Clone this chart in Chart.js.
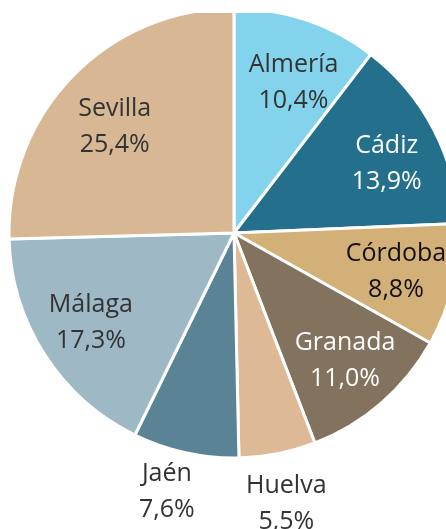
<!DOCTYPE html>
<html lang="es">
<head>
    <meta charset="UTF-8">
    <title>Andalucía por provincias</title>
    <script src="https://cdn.jsdelivr.net/npm/chart.js@4.4.1/dist/chart.umd.min.js"></script>
    <style>
        body {
            margin: 0;
            background: #ffffff;
            overflow: hidden;
            width: 446px;
            height: 529px;
        }
        .frame {
            position: absolute;
            left: 0;
            top: 13px;
            width: 446px;
            height: 516px;
            overflow: hidden;
        }
        #pie {
            position: absolute;
            left: -66px;
            top: -80px;
        }
    </style>
</head>
<body>
    <div class="frame">
        <canvas id="pie" width="600" height="600"></canvas>
    </div>

    <script>
        // provincias y su peso (%)
        const provinces = ["Almería", "Cádiz", "Córdoba", "Granada", "Huelva", "Jaén", "Málaga", "Sevilla"];
        const shares = [10.4, 13.9, 8.8, 11.0, 5.5, 7.6, 17.3, 25.4];

        const sliceColors = ['#84D3EC', '#236F8C', '#D3B078', '#82725E', '#DDB995', '#5A8395', '#9EB9C5', '#D8B894'];
        const labelColors = ['#333333', '#ffffff', '#111111', '#ffffff', '#333333', '#333333', '#333333', '#333333'];
        // pequeños ajustes a mano de la posición de cada etiqueta (px)
        const labelShift = [[6, 8], [5, 8], [0, 0], [2, 2], [0, 6], [-9, -5], [-3, 0], [0, 10]];

        // etiquetas dentro del sector, o fuera si el sector es pequeño
        const sliceLabels = {
            id: 'sliceLabels',
            afterDatasetsDraw(chart) {
                const ctx = chart.ctx;
                const meta = chart.getDatasetMeta(0);
                const total = shares.reduce((a, b) => a + b, 0);
                ctx.save();
                ctx.font = '25px "Open Sans"';
                ctx.textAlign = 'center';
                ctx.textBaseline = 'middle';
                meta.data.forEach((arc, i) => {
                    const p = arc.getProps(['x', 'y', 'startAngle', 'endAngle', 'outerRadius'], true);
                    const mid = (p.startAngle + p.endAngle) / 2;
                    const r = shares[i] / total < 0.08 ? p.outerRadius * 1.2 : p.outerRadius * 0.74;
                    const lx = p.x + Math.cos(mid) * r + labelShift[i][0];
                    const ly = p.y + Math.sin(mid) * r + labelShift[i][1];
                    ctx.fillStyle = labelColors[i];
                    ctx.fillText(provinces[i], lx, ly - 18);
                    ctx.fillText(shares[i].toFixed(1).replace('.', ',') + '%', lx, ly + 18);
                });
                ctx.restore();
            }
        };

        new Chart(document.getElementById('pie'), {
            type: 'pie',
            data: {
                labels: provinces,
                datasets: [{
                    data: shares,
                    backgroundColor: sliceColors,
                    borderColor: '#ffffff',
                    borderWidth: 3,
                    radius: 225
                }]
            },
            options: {
                responsive: false,
                devicePixelRatio: 1,
                animation: false,
                layout: { padding: 0 },
                plugins: {
                    legend: { display: false },
                    tooltip: { enabled: false }
                }
            },
            plugins: [sliceLabels]
        });
    </script>
</body>
</html>
